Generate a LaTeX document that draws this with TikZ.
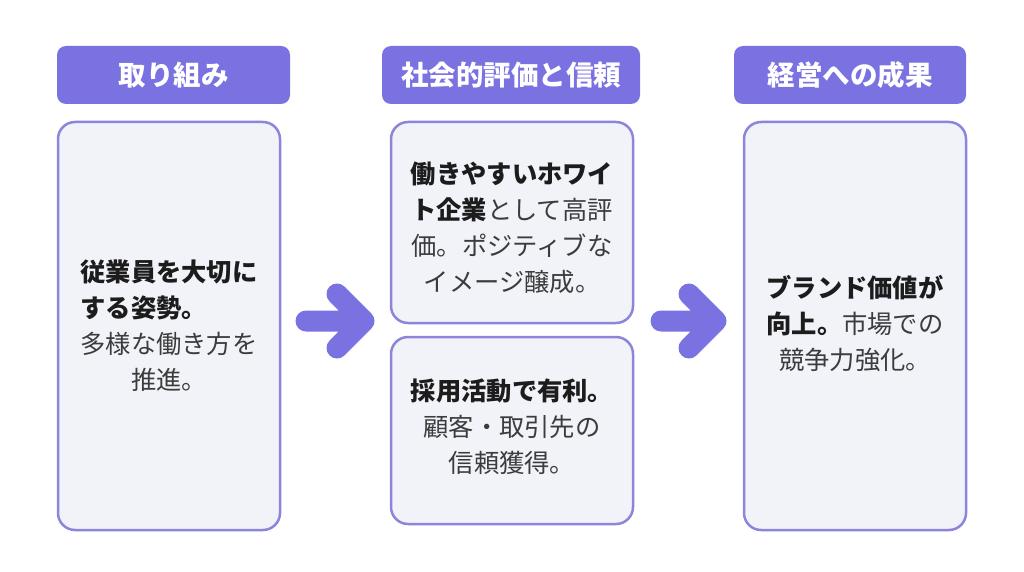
\documentclass[tikz,border=0pt]{standalone}
\usepackage{fontspec}
\setmainfont{Noto Sans CJK JP}
\usetikzlibrary{positioning}
\definecolor{hdrfill}{HTML}{7B72E2}
\definecolor{cardfill}{HTML}{F1F3F9}
\definecolor{cardline}{HTML}{8D85DB}
\definecolor{inkbold}{HTML}{1C1C1C}
\definecolor{inktext}{HTML}{3C3C3C}

\begin{document}
\begin{tikzpicture}[x=1pt, y=-1pt,
  header/.style={rectangle, rounded corners=9pt, fill=hdrfill, text=white, minimum height=58pt, font=\fontsize{27.5}{30}\selectfont\bfseries},
  card/.style={rectangle, rounded corners=17pt, draw=cardline, line width=2.5pt, fill=cardfill, text=inktext, align=center, font=\fontsize{25.3}{36}\selectfont},
  bigarrow/.style={draw=hdrfill, line width=21pt, line cap=round, line join=round}]
	 \useasboundingbox[fill=white] (0,0) rectangle (1024,572);
	 % column headers
	 \node[header, minimum width=233pt] (h1) at (173.5,75) {取り組み};
	 \node[header, minimum width=258pt] (h2) at (511,75) {社会的評価と信頼};
	 \node[header, minimum width=232pt] (h3) at (850,75) {経営への成果};
	 % cards
	 \node[card, minimum width=222pt, minimum height=408pt] (c1) at (169,326) {};
	 \node[card, minimum width=242pt, minimum height=201pt] (c2a) at (512,222.5) {};
	 \node[card, minimum width=242pt, minimum height=187pt] (c2b) at (512,430.5) {};
	 \node[card, minimum width=222pt, minimum height=408pt] (c3) at (855,326) {};
	 % card texts
	 \node[card, draw=none, fill=none] (t1) at (c1.center) {\textcolor{inkbold}{\bfseries 従業員を大切に}\\ \textcolor{inkbold}{\bfseries する姿勢。}\hphantom{多様}\\ 多様な働き方を\\ 推進。};
	 \node[card, draw=none, fill=none] (t2a) at ([yshift=-5pt]c2a.center) {\textcolor{inkbold}{\bfseries 働きやすいホワイ}\\ \textcolor{inkbold}{\bfseries ト企業}として高評\\ 価。ポジティブな\\ イメージ醸成。};
	 \node[card, draw=none, fill=none] (t2b) at ([yshift=4pt]c2b.center) {\textcolor{inkbold}{\bfseries 採用活動で有利。}\\ 顧客・取引先の\\ 信頼獲得。};
	 \node[card, draw=none, fill=none] (t3) at ([yshift=2pt]c3.center) {\textcolor{inkbold}{\bfseries ブランド価値が}\\ \textcolor{inkbold}{\bfseries 向上。}市場での\\ 競争力強化。};
	 % block arrows
	 \coordinate (a1s) at (306,321);
	 \coordinate (a1e) at (364,321);
	 \coordinate (a2s) at (661,321);
	 \coordinate (a2e) at (716,321);
	 \draw[bigarrow] (a1s) -- (a1e) (a1e) ++(-27,-27) -- (a1e) -- ++(-27,27);
	 \draw[bigarrow] (a2s) -- (a2e) (a2e) ++(-27,-27) -- (a2e) -- ++(-27,27);
	\end{tikzpicture}
\end{document}
